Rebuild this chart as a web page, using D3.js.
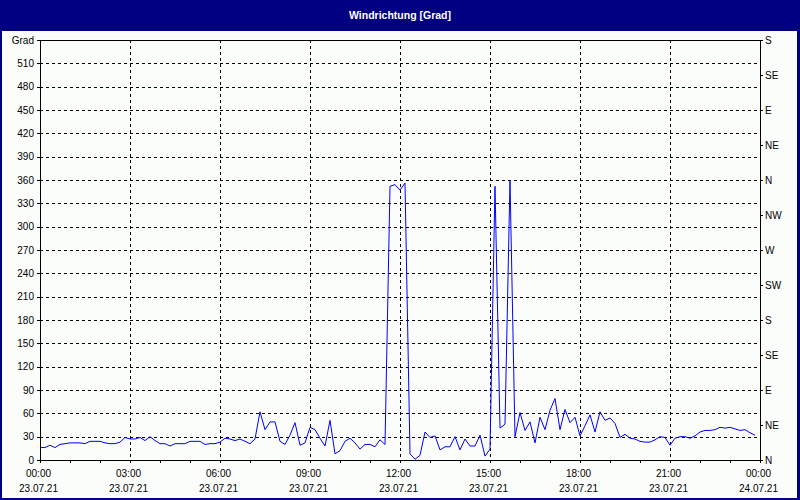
<!DOCTYPE html>
<html>
<head>
<meta charset="utf-8">
<script src="https://cdn.jsdelivr.net/npm/d3@7"></script>
<style>
  html, body { margin: 0; padding: 0; background: #fbfdfb; }
  svg { display: block; }
  text { font-family: "Liberation Sans", Arial, sans-serif; }
</style>
</head>
<body>
<svg id="chart" width="800" height="500"></svg>
<script>
// ---- data (10-minute values, 23.07.21 00:00 onwards) ----
const title = "Windrichtung [Grad]";
const startTime = "2021-07-23T00:00:00";
const endTime = "2021-07-24T00:00:00";
const stepMinutes = 10;
const values = [
  16, 16, 19, 16, 20, 21, 22, 22, 22, 21, 24, 24, 24, 22, 21, 21, 23, 29,
  27, 27, 29, 25, 30, 25, 21, 21, 18, 21, 21, 21, 24, 24, 24, 20, 21, 21,
  23, 28, 27, 25, 27, 24, 21, 27, 62, 39, 49, 49, 24, 20, 32, 48, 19, 22,
  42, 39, 28, 18, 51, 8, 12, 24, 28, 22, 14, 20, 20, 17, 26, 20, 352, 354,
  347, 356, 8, 1, 6, 36, 29, 31, 13, 17, 17, 30, 13, 27, 18, 18, 32, 5,
  14, 352, 41, 46, 360, 30, 61, 38, 49, 22, 55, 39, 64, 79, 39, 65, 48, 55,
  31, 44, 58, 36, 62, 51, 54, 47, 29, 33, 28, 27, 24, 23, 23, 26, 30, 29,
  19, 28, 30, 30, 28, 31, 36, 38, 38, 39, 42, 41, 42, 40, 38, 39, 35, 32
];
const leftTicks = [0, 30, 60, 90, 120, 150, 180, 210, 240, 270, 300, 330, 360, 390, 420, 450, 480, 510, 540];
const leftTopLabel = "Grad";
const rightTicks = [0, 45, 90, 135, 180, 225, 270, 315, 360, 405, 450, 495, 540];
const rightLabels = ["N", "NE", "E", "SE", "S", "SW", "W", "NW", "N", "NE", "E", "SE", "S"];
const gridValues = [30, 60, 90, 120, 150, 180, 210, 240, 270, 300, 330, 360, 390, 420, 450, 480, 510];
const yMax = 540;

// ---- layout ----
const W = 800, H = 500;
const m = { left: 40, right: 40, top: 40, bottom: 40 };
const svg = d3.select("#chart");
const parse = d3.isoParse;
const t0 = parse(startTime), t1 = parse(endTime);

const x = d3.scaleTime().domain([t0, t1]).range([m.left, W - m.right]);
const y = d3.scaleLinear().domain([0, yMax]).range([H - m.bottom, m.top]);

// background & frame
svg.append("rect").attr("x", 0).attr("y", 0).attr("width", W).attr("height", H).attr("fill", "#000080");
svg.append("rect").attr("x", 2).attr("y", 31).attr("width", W - 5).attr("height", H - 33).attr("fill", "#fbfdfb");
svg.append("text").attr("x", W / 2).attr("y", 19).attr("text-anchor", "middle")
  .attr("fill", "#ffffff").attr("font-weight", "bold").attr("font-size", "10.5px").text(title);

// grid
const grid = svg.append("g").attr("shape-rendering", "crispEdges")
  .attr("stroke", "#000").attr("stroke-dasharray", "3,3").attr("stroke-width", 1);
grid.selectAll("line.h").data(gridValues).join("line").attr("class", "h")
  .attr("x1", m.left).attr("x2", W - m.right)
  .attr("y1", d => Math.round(y(d)) + 0.5).attr("y2", d => Math.round(y(d)) + 0.5);
const vTicks = d3.timeHour.every(3).range(d3.timeMinute.offset(t0, 1), t1);
grid.selectAll("line.v").data(vTicks).join("line").attr("class", "v")
  .attr("y1", m.top).attr("y2", H - m.bottom)
  .attr("x1", d => Math.round(x(d)) + 0.5).attr("x2", d => Math.round(x(d)) + 0.5);

// data line
const times = values.map((v, i) => d3.timeMinute.offset(t0, i * stepMinutes));
const line = d3.line().x((d, i) => x(times[i])).y(d => y(d));
svg.append("path").datum(values).attr("d", line)
  .attr("fill", "none").attr("stroke", "#0000ff").attr("stroke-width", 1)
  .attr("stroke-linejoin", "miter");

// axes frame
svg.append("rect").attr("x", m.left + 0.5).attr("y", m.top + 0.5)
  .attr("width", W - m.left - m.right).attr("height", H - m.top - m.bottom)
  .attr("fill", "none").attr("stroke", "#000").attr("shape-rendering", "crispEdges");

function styleAxis(g) {
  g.attr("shape-rendering", "crispEdges");
  g.select(".domain").remove();
  g.selectAll(".tick line").attr("stroke", "#000");
  g.selectAll(".tick text").attr("fill", "#000").attr("font-size", "10px")
    .attr("font-family", "'Liberation Sans', Arial, sans-serif");
}

// left axis
svg.append("g").attr("transform", `translate(${m.left},0)`)
  .call(d3.axisLeft(y).tickValues(leftTicks).tickSize(3).tickPadding(3)
    .tickFormat(d => d === yMax ? leftTopLabel : d))
  .call(styleAxis);

// right axis
svg.append("g").attr("transform", `translate(${W - m.right},0)`)
  .call(d3.axisRight(y).tickValues(rightTicks).tickSize(3).tickPadding(2)
    .tickFormat((d, i) => rightLabels[i]))
  .call(styleAxis);

// bottom: hourly minor ticks
svg.append("g").attr("transform", `translate(0,${H - m.bottom})`)
  .call(d3.axisBottom(x).ticks(d3.timeHour.every(1)).tickSize(3).tickFormat(""))
  .call(styleAxis);

// bottom labels every 3 hours, two lines
const fmtTime = d3.timeFormat("%H:%M");
const fmtDate = d3.timeFormat("%d.%m.%y");
const bx = svg.append("g").attr("transform", `translate(0,${H - m.bottom})`)
  .call(d3.axisBottom(x).ticks(d3.timeHour.every(3)).tickSize(0).tickPadding(0).tickFormat(""))
  .call(styleAxis);
bx.selectAll(".tick").each(function(d) {
  const t = d3.select(this).select("text").attr("y", 0).attr("dy", null);
  t.append("tspan").attr("x", -2).attr("y", 17).text(fmtTime(d));
  t.append("tspan").attr("x", -2).attr("y", 32).text(fmtDate(d));
});
</script>
</body>
</html>
